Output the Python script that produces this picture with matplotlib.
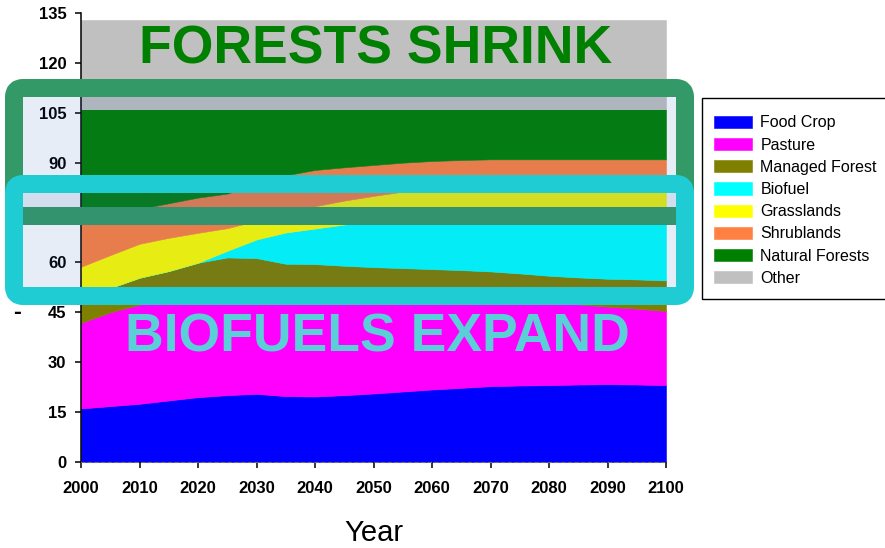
import matplotlib
matplotlib.use("Agg")
import matplotlib.pyplot as plt
from matplotlib.patches import FancyBboxPatch, Rectangle
import numpy as np

plt.rcParams['font.family'] = ['Liberation Sans', 'DejaVu Sans']

# Land cover by category (million km^2), every 5 years
years = list(range(2000, 2101, 5))
food_crop = [16.1, 16.8, 17.5, 18.5, 19.5, 20.1, 20.5, 19.8, 19.7, 20.1, 20.6,
             21.2, 21.8, 22.3, 22.8, 23.0, 23.1, 23.3, 23.4, 23.3, 23.1]
pasture = [25.7, 28.2, 29.8, 30.0, 30.0, 29.9, 29.8, 30.5, 30.5, 29.9, 29.2,
           28.4, 27.6, 26.9, 26.2, 25.6, 25.1, 24.1, 23.3, 22.8, 22.3]
managed_forest = [7.7, 7.3, 8.1, 8.9, 10.4, 11.5, 11.0, 9.3, 9.3, 9.0, 8.8,
                  8.7, 8.6, 8.5, 8.3, 8.1, 7.8, 8.1, 8.4, 8.8, 9.2]
biofuel = [0.0, 0.0, 0.0, 0.0, 0.0, 2.0, 5.6, 9.4, 10.7, 12.4, 13.8,
           14.7, 15.5, 16.1, 16.7, 17.5, 18.4, 19.1, 19.7, 20.1, 20.4]
grasslands = [9.2, 9.9, 10.2, 10.0, 9.0, 6.8, 5.6, 5.6, 6.7, 7.2, 7.6,
              8.3, 8.7, 9.1, 9.4, 9.6, 9.7, 9.7, 9.7, 9.6, 9.7]
shrublands = [15.3, 12.8, 10.5, 10.4, 10.6, 10.4, 11.0, 11.6, 10.9, 10.0, 9.3,
              8.7, 8.3, 7.9, 7.6, 7.2, 6.9, 6.7, 6.5, 6.4, 6.3]
natural_forests = [32.0, 31.0, 29.9, 28.2, 26.5, 25.3, 22.5, 19.8, 18.2, 17.4, 16.7,
                   16.0, 15.5, 15.2, 15.0, 15.0, 15.0, 15.0, 15.0, 15.0, 15.0]
other = [27.0] * 21

labels = ["Food Crop", "Pasture", "Managed Forest", "Biofuel",
          "Grasslands", "Shrublands", "Natural Forests", "Other"]
colors = ["#0000FF", "#FF00FF", "#808000", "#00FFFF",
          "#FFFF00", "#FF8040", "#008000", "#C0C0C0"]

y_ticks = list(range(0, 136, 15))
x_ticks = list(range(2000, 2101, 10))

W, H = 885, 548
fig = plt.figure(figsize=(W / 100, H / 100), dpi=100)
ax = fig.add_axes([81 / W, 1 - 462 / H, (666 - 81) / W, (462 - 13) / H])

polys = ax.stackplot(years, food_crop, pasture, managed_forest, biofuel,
                     grasslands, shrublands, natural_forests, other,
                     labels=labels, colors=colors, linewidth=0.4)
for p in polys:
    p.set_edgecolor('face')

ax.set_xlim(2000, 2100)
ax.set_ylim(0, 135)
ax.set_xticks(x_ticks)
ax.set_yticks(y_ticks)
for lab in ax.get_xticklabels() + ax.get_yticklabels():
    lab.set_fontweight('bold')
    lab.set_fontsize(12)
ax.tick_params(axis='y', length=4, width=1.1, pad=6.5, direction='out')
ax.tick_params(axis='x', length=4.5, width=1.1, pad=9, direction='out')
ax.spines['top'].set_visible(False)
ax.spines['right'].set_visible(False)
ax.spines['left'].set_linewidth(1.1)
ax.spines['bottom'].set_color('#707070')
ax.spines['bottom'].set_linewidth(0.8)
ax.spines['bottom'].set_linestyle((0, (3, 3)))

ax.set_xlabel("Year", fontsize=21)
ax.xaxis.set_label_coords(0.5, -0.126)

fig.text(17 / W, 1 - 313 / H, "-", fontsize=17, fontweight='bold',
         ha='center', va='center')

# Headline texts
fig.text(376 / W, 1 - 63 / H, "FORESTS SHRINK", fontsize=38.5, fontweight='bold',
         color='#008000', ha='center', va='baseline')
fig.text(377.5 / W, 1 - 352 / H, "BIOFUELS EXPAND", fontsize=38.5, fontweight='bold',
         color='#5BCFD7', ha='center', va='baseline')

# Highlight frames (pixel geometry via inch transform)
def frame(x0, y0, x1, y1, edge):
    patch = FancyBboxPatch((x0 / 100, (H - y1) / 100), (x1 - x0) / 100, (y1 - y0) / 100,
                           boxstyle="round,pad=0,rounding_size=0.09",
                           transform=fig.dpi_scale_trans,
                           facecolor=(45 / 255, 100 / 255, 180 / 255, 0.11),
                           edgecolor=edge, linewidth=18 * 0.72, joinstyle='round')
    fig.patches.append(patch)

frame(14, 88, 685, 216, '#339966')
frame(14, 184, 685, 296, '#20CCD4')

# Legend with its own outer frame
fig.patches.append(Rectangle((702 / 100, (H - 299) / 100), 190 / 100, 201 / 100,
                             transform=fig.dpi_scale_trans, facecolor='white',
                             edgecolor='black', linewidth=1.0, zorder=4))
leg = fig.legend(handles=polys, labels=labels, loc='upper left',
                 bbox_to_anchor=(714 / W, 1 - 115.5 / H), borderaxespad=0,
                 fontsize=11.5, frameon=False, handlelength=2.4, handleheight=0.8,
                 handletextpad=0.5, labelspacing=0.45, borderpad=0)
leg.set_zorder(5)

fig.savefig("out.png", dpi=100)
